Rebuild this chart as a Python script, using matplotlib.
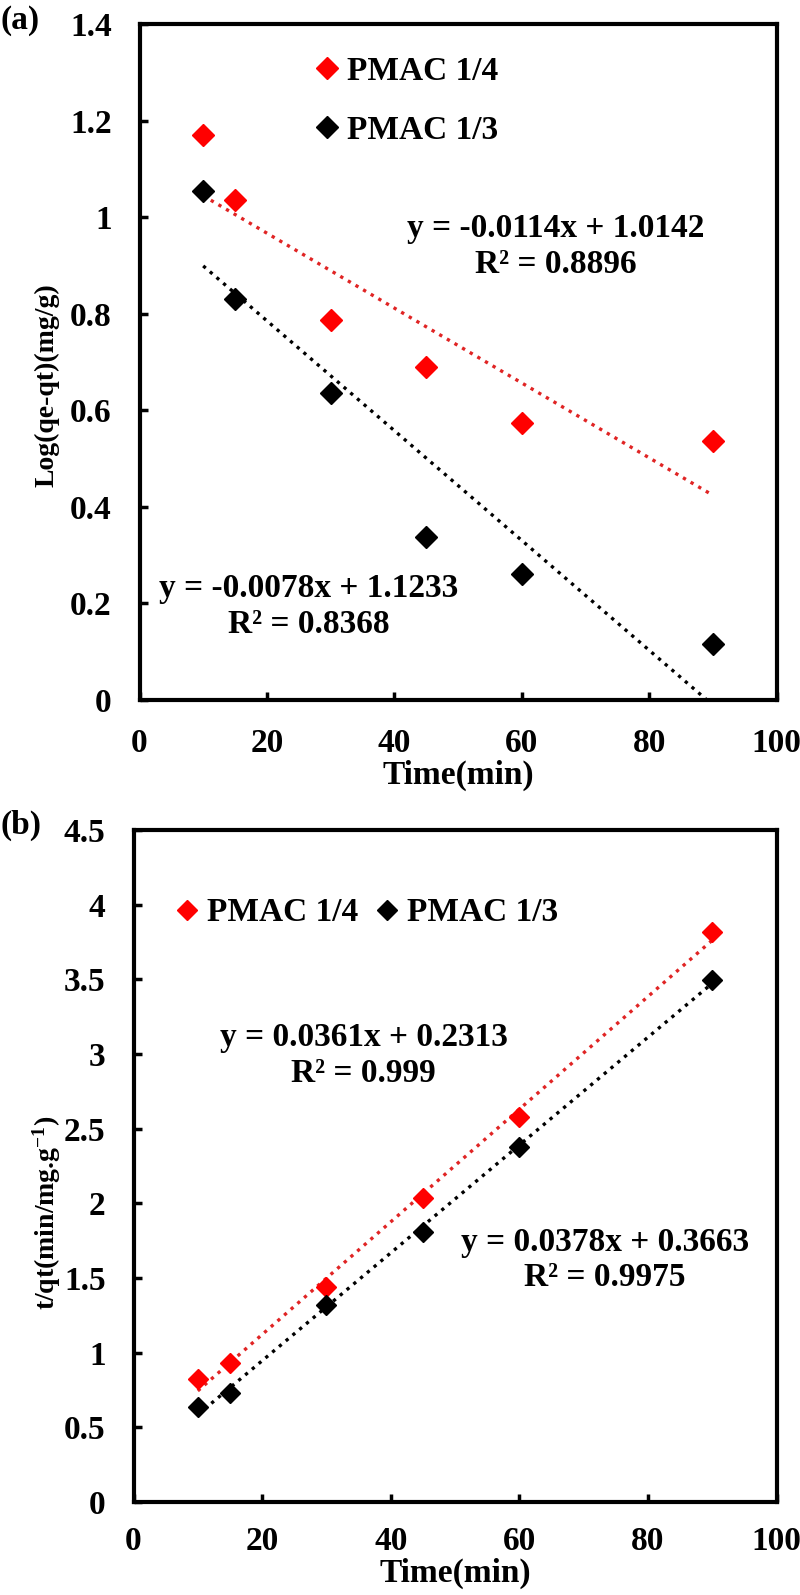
import numpy as np
import matplotlib
matplotlib.use("Agg")
import matplotlib.pyplot as plt

plt.rcParams['font.family'] = ['Liberation Serif', 'DejaVu Serif']
plt.rcParams['font.weight'] = 'bold'
plt.rcParams['mathtext.fontset'] = 'custom'
plt.rcParams['mathtext.rm'] = 'Liberation Serif:bold'
plt.rcParams['mathtext.it'] = 'Liberation Serif:bold'
plt.rcParams['mathtext.bf'] = 'Liberation Serif:bold'
plt.rcParams['mathtext.default'] = 'bf'

# ---- data ----
time_min = [10, 15, 30, 45, 60, 90]
labels = ["PMAC 1/4", "PMAC 1/3"]

# (a) pseudo-first-order: Log(qe-qt)
a_pmac14 = [1.170, 1.036, 0.788, 0.689, 0.574, 0.536]
a_pmac13 = [1.055, 0.831, 0.636, 0.337, 0.260, 0.115]
a_eq_upper = "y = -0.0114x + 1.0142\nR² = 0.8896"
a_eq_lower = "y = -0.0078x + 1.1233\nR² = 0.8368"

# (b) pseudo-second-order: t/qt
b_pmac14 = [0.822, 0.934, 1.440, 2.035, 2.580, 3.820]
b_pmac13 = [0.633, 0.733, 1.317, 1.809, 2.380, 3.496]
b_eq_upper = "y = 0.0361x + 0.2313\nR² = 0.999"
b_eq_lower = "y = 0.0378x + 0.3663\nR² = 0.9975"

x_ticks = [0, 20, 40, 60, 80, 100]
a_yticks = [0, 0.2, 0.4, 0.6, 0.8, 1.0, 1.2, 1.4]
a_yticklabels = ["0", "0.2", "0.4", "0.6", "0.8", "1", "1.2", "1.4"]
b_yticks = [0, 0.5, 1, 1.5, 2, 2.5, 3, 3.5, 4, 4.5]
b_yticklabels = ["0", "0.5", "1", "1.5", "2", "2.5", "3", "3.5", "4", "4.5"]

RED = '#ff0000'
RED_LINE = '#e02424'
FS = 24
FS_YLAB = 20

fig = plt.figure(figsize=(8, 15.95), dpi=100)
ax1 = fig.add_axes([139.5/800, 1-700/1595, 637/800, 676/1595])
ax2 = fig.add_axes([133.5/800, 1-1502/1595, 643/800, 672/1595])


def style(ax, xpad):
    for s in ax.spines.values():
        s.set_linewidth(3.0)
        s.set_color('black')
    ax.tick_params(axis='both', direction='in', length=6, width=2.5,
                   labelsize=FS, pad=20, top=False, right=False)
    ax.tick_params(axis='x', pad=xpad)
    ax.set_xlim(0, 100)
    ax.set_xticks(x_ticks)
    ax.set_xticklabels([str(v) for v in x_ticks], fontweight='bold')


def trend(ax, y, color):
    x = np.array(time_min, dtype=float)
    k, b = np.polyfit(x, np.array(y, dtype=float), 1)
    xs = np.array([x.min(), x.max()])
    ax.plot(xs, k*xs + b, linestyle=':', color=color, lw=2.4, zorder=2)


# ---- panel (a) ----
style(ax1, 20)
ax1.set_ylim(0, 1.4)
ax1.set_yticks(a_yticks)
ax1.set_yticklabels(a_yticklabels, fontweight='bold')
trend(ax1, a_pmac14, RED_LINE)
trend(ax1, a_pmac13, 'black')
ax1.plot(time_min, a_pmac14, 'D', color=RED, ms=11, mec=RED, label=labels[0], zorder=3)
ax1.plot(time_min, a_pmac13, 'D', color='black', ms=11, mec='black', label=labels[1], zorder=3)
ax1.text(65.4, 0.940, a_eq_upper, ha='center', va='center', fontsize=FS,
         fontweight='bold', linespacing=1.2)
ax1.text(26.6, 0.193, a_eq_lower, ha='center', va='center', fontsize=FS,
         fontweight='bold', linespacing=1.2)
ax1.set_xlabel("Time(min)", fontsize=FS, fontweight='bold')
ax1.xaxis.set_label_coords(0.5, -0.088)
ax1.set_ylabel("Log(qe-qt)(mg/g)", fontsize=FS_YLAB, fontweight='bold')
ax1.yaxis.set_label_coords(-0.125, 0.466)
ax1.legend(loc='upper left', bbox_to_anchor=(0.274, 0.953), frameon=False,
           borderpad=0, handlelength=0.8, handletextpad=0.2,
           labelspacing=0.85, borderaxespad=0, prop={'weight': 'bold', 'size': FS})

# ---- panel (b) ----
style(ax2, 17)
ax2.set_ylim(0, 4.5)
ax2.set_yticks(b_yticks)
ax2.set_yticklabels(b_yticklabels, fontweight='bold')
trend(ax2, b_pmac14, RED_LINE)
trend(ax2, b_pmac13, 'black')
ax2.plot(time_min, b_pmac14, 'D', color=RED, ms=10, mec=RED, label=labels[0], zorder=3)
ax2.plot(time_min, b_pmac13, 'D', color='black', ms=10, mec='black', label=labels[1], zorder=3)
ax2.text(35.8, 2.99, b_eq_upper, ha='center', va='center', fontsize=FS,
         fontweight='bold', linespacing=1.2)
ax2.text(73.3, 1.62, b_eq_lower, ha='center', va='center', fontsize=FS,
         fontweight='bold', linespacing=1.2)
ax2.set_xlabel("Time(min)", fontsize=FS, fontweight='bold')
ax2.xaxis.set_label_coords(0.5, -0.083)
ax2.set_ylabel(r"t/qt(min/mg.g$^{-1}$)", fontsize=FS_YLAB, fontweight='bold')
ax2.yaxis.set_label_coords(-0.11, 0.43)
ax2.legend(loc='upper left', bbox_to_anchor=(0.0625, 0.90), frameon=False, ncol=2,
           borderpad=0, handlelength=0.8, handletextpad=0.2,
           columnspacing=0.47, borderaxespad=0, prop={'weight': 'bold', 'size': FS})

fig.text(0.0, 1-20/1595, "(a)", fontsize=FS, fontweight='bold', ha='left', va='center')
fig.text(0.0, 1-825/1595, "(b)", fontsize=FS, fontweight='bold', ha='left', va='center')

fig.savefig("out.png", dpi=100)
